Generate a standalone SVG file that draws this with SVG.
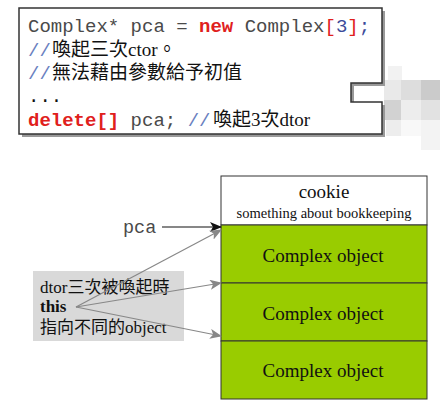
<svg xmlns="http://www.w3.org/2000/svg" width="440" height="412" viewBox="0 0 440 412">
<defs>
<style>
.mono{font-family:"Liberation Mono","Courier New",monospace;font-size:19px;fill:#4a4a4a}
.red{fill:#e0201c;font-weight:bold}
.redn{fill:#e0201c}
.blu{fill:#3b4a9a}
.sl{fill:#6a7fc0}
.cjk{font-family:"Liberation Serif","Noto Sans CJK TC",serif;font-size:19px;fill:#111}
.lbl{font-family:"Liberation Serif","Noto Sans CJK TC",serif;fill:#111;text-anchor:middle}
.note{font-family:"Liberation Serif","Noto Sans CJK TC",serif;font-size:17px;fill:#111}
.cell{stroke:#333;stroke-width:1}
.garr{stroke:#888;stroke-width:1.2;fill:none;marker-end:url(#ga)}
</style>
<marker id="ba" viewBox="0 0 12 10" refX="11" refY="5" markerWidth="12" markerHeight="10" markerUnits="userSpaceOnUse" orient="auto">
<path d="M0,0 L12,5 L0,10 L3,5 z" fill="#111"/>
</marker>
<marker id="ga" viewBox="0 0 12 10" refX="11" refY="5" markerWidth="12" markerHeight="10" markerUnits="userSpaceOnUse" orient="auto">
<path d="M0,0 L12,5 L0,10 L3,5 z" fill="#888"/>
</marker>
</defs>
<rect width="440" height="412" fill="#fff"/>

<!-- mosaic watermark -->
<g id="mosaic">
<rect x="388" y="66" width="14" height="14" fill="#f2f2f2"/>
<rect x="384" y="80" width="17" height="20" fill="#e9e9e9"/>
<rect x="401" y="80" width="20" height="20" fill="#dddddd"/>
<rect x="421" y="80" width="19" height="20" fill="#cbcbcb"/>
<rect x="384" y="100" width="17" height="20" fill="#d2d2d2"/>
<rect x="401" y="100" width="20" height="20" fill="#ededed"/>
<rect x="421" y="100" width="19" height="20" fill="#e2e2e2"/>
<rect x="386" y="120" width="15" height="16" fill="#ededed"/>
<rect x="401" y="120" width="20" height="16" fill="#f8f8f8"/>
<rect x="421" y="120" width="19" height="30" fill="#f3f3f3"/>
</g>

<!-- code box -->
<g id="code">
<path d="M22,11 H385 V86 H354 V105 H385 V137 H22 Z" fill="#999"/>
<path d="M19,8 H382 V83 H351 V102 H382 V134 H19 Z" fill="#fff" stroke="#333" stroke-width="1.5"/>
<text class="mono" x="28" y="32">Complex* pca = <tspan class="red">new</tspan> Complex<tspan class="redn">[</tspan><tspan class="blu">3</tspan><tspan class="redn">]</tspan><tspan class="blu">;</tspan></text>
<text class="mono sl" x="28" y="55.5">//</text>
<text class="cjk" x="52" y="55.5">喚起三次ctor。</text>
<text class="mono sl" x="28" y="79">//</text>
<text class="cjk" x="52" y="79">無法藉由參數給予初值</text>
<text class="mono" x="28" y="102" style="fill:#111">...</text>
<text class="mono" x="28" y="126"><tspan class="red">delete[]</tspan> pca; <tspan class="sl">//</tspan></text>
<text class="cjk" x="213" y="126">喚起3次dtor</text>
</g>

<!-- memory blocks -->
<g id="cookie">
<rect class="cell" x="221" y="176" width="206" height="49" fill="#fff"/>
<text class="lbl" x="324" y="198" font-size="19">cookie</text>
<text class="lbl" x="324" y="218" font-size="14.5">something about bookkeeping</text>
</g>
<g id="obj1">
<rect class="cell" x="221" y="225" width="206" height="58" fill="#99cc00"/>
<text class="lbl" x="323" y="262" font-size="19">Complex object</text>
</g>
<g id="obj2">
<rect class="cell" x="221" y="283" width="206" height="58" fill="#99cc00"/>
<text class="lbl" x="323" y="320" font-size="19">Complex object</text>
</g>
<g id="obj3">
<rect class="cell" x="221" y="341" width="206" height="58" fill="#99cc00"/>
<text class="lbl" x="323" y="377" font-size="19">Complex object</text>
</g>

<!-- pca label -->
<g id="pca">
<text x="123" y="233" font-family="Liberation Mono, monospace" font-size="18.5" fill="#4a4a4a">pca</text>
</g>

<!-- note -->
<g id="note">
<rect x="33" y="271" width="151" height="70" fill="#d9d9d9"/>
<text class="note" x="40" y="293">dtor三次被喚起時</text>
<text class="note" x="40" y="312" font-weight="bold">this</text>
<text class="note" x="40" y="333">指向不同的object</text>
</g>

<!-- connectors -->
<g id="connectors">
<line x1="162" y1="227" x2="221" y2="227" stroke="#111" stroke-width="1.2" marker-end="url(#ba)"/>
<line class="garr" x1="76" y1="307" x2="221" y2="230"/>
<line class="garr" x1="76" y1="307" x2="221" y2="283"/>
<line class="garr" x1="76" y1="307" x2="221" y2="336"/>
</g>
</svg>
